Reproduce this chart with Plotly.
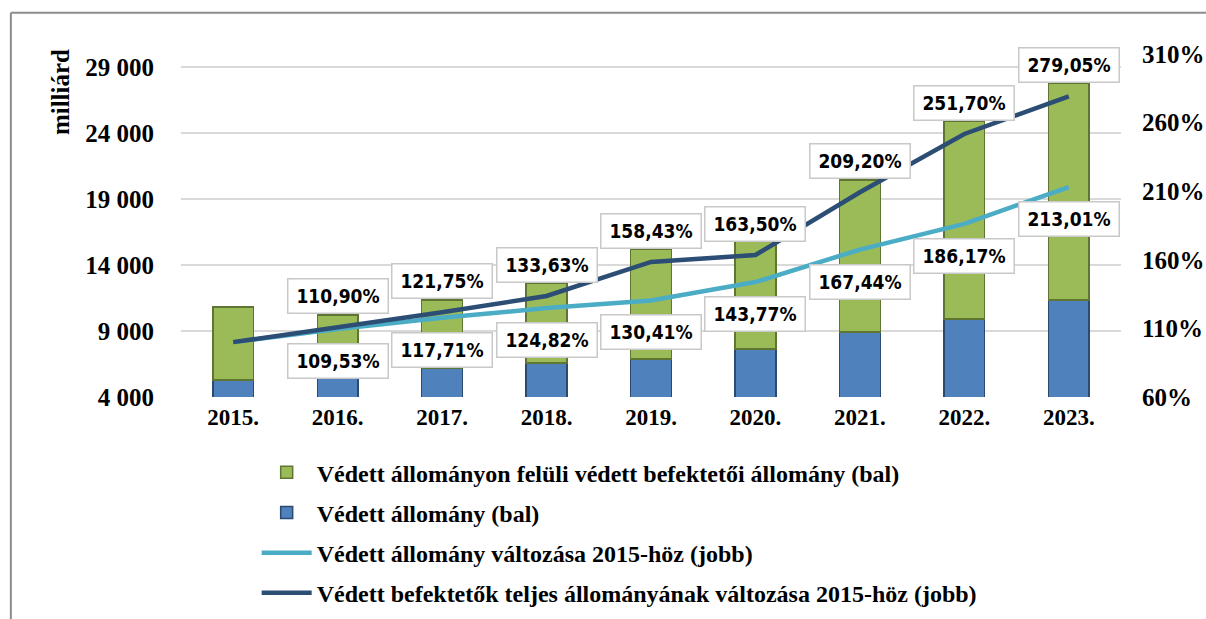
import plotly.graph_objects as go

years = ["2015.", "2016.", "2017.", "2018.", "2019.", "2020.", "2021.", "2022.", "2023."]
vedett_allomany = [5290, 5840, 6200, 6580, 6880, 7640, 8930, 9910, 11350]
felul_allomany = [5530, 4370, 5150, 6060, 8330, 8130, 11510, 15000, 16440]
vedett_valtozas = [100, 109.53, 117.71, 124.82, 130.41, 143.77, 167.44, 186.17, 213.01]
teljes_valtozas = [100, 110.90, 121.75, 133.63, 158.43, 163.50, 209.20, 251.70, 279.05]

left_ticks = [4000, 9000, 14000, 19000, 24000, 29000]
left_ticktext = ["4 000", "9 000", "14 000", "19 000", "24 000", "29 000"]
right_ticks = [60, 110, 160, 210, 260, 310]
right_ticktext = ["60%", "110%", "160%", "210%", "260%", "310%"]

names = [
    "Védett állományon felüli védett befektetői állomány (bal)",
    "Védett állomány (bal)",
    "Védett állomány változása 2015-höz (jobb)",
    "Védett befektetők teljes állományának változása 2015-höz (jobb)",
]

xpos = list(range(len(years)))

def pct(v):
    return f"{v:.2f}".replace(".", ",") + "%"

fig = go.Figure()
fig.add_trace(go.Bar(
    x=xpos, y=vedett_allomany, name=names[1], legendrank=2, legendgroup="b",
    marker=dict(color="#4F81BD", line=dict(color="#2B4A70", width=1.5)),
))
fig.add_trace(go.Bar(
    x=xpos, y=felul_allomany, name=names[0], legendrank=1, legendgroup="a",
    marker=dict(color="#9BBB59", line=dict(color="#5F7632", width=1.5)),
))
fig.add_trace(go.Scatter(
    x=xpos, y=vedett_valtozas, name=names[2], yaxis="y2", mode="lines",
    legendrank=3, legendgroup="c",
    line=dict(color="#4BACC6", width=4.5),
))
fig.add_trace(go.Scatter(
    x=xpos, y=teljes_valtozas, name=names[3], yaxis="y2", mode="lines",
    legendrank=4, legendgroup="d",
    line=dict(color="#2C4D74", width=4.5),
))

annotations = []
lab_font = dict(family="DejaVu Sans Condensed, Liberation Sans", size=19, color="#000000")
for i in range(1, len(years)):
    annotations.append(dict(
        x=xpos[i], y=teljes_valtozas[i], xref="x", yref="y2", yshift=31,
        text="<b>" + pct(teljes_valtozas[i]) + "</b>", showarrow=False,
        font=lab_font, bgcolor="white", bordercolor="#C8C8C8", borderwidth=1.5,
        borderpad=5, width=89, height=23,
    ))
    annotations.append(dict(
        x=xpos[i], y=vedett_valtozas[i], xref="x", yref="y2", yshift=-32,
        text="<b>" + pct(vedett_valtozas[i]) + "</b>", showarrow=False,
        font=lab_font, bgcolor="white", bordercolor="#C8C8C8", borderwidth=1.5,
        borderpad=5, width=89, height=23,
    ))
annotations.append(dict(
    x=-0.1287, y=0.889, xref="paper", yref="paper", text="<b>milliárd</b>",
    xanchor="center", yanchor="middle",
    textangle=-90, showarrow=False,
    font=dict(family="Liberation Serif", size=25, color="#000000"),
))

fig.update_layout(
    width=1206, height=619,
    margin=dict(l=181, r=85, t=54, b=222, autoexpand=False),
    paper_bgcolor="white", plot_bgcolor="white",
    barmode="stack", bargap=0.61,
    font=dict(family="Liberation Serif", size=22, color="#000000"),
    xaxis=dict(
        range=[-0.5, len(years) - 0.5], tickvals=xpos, ticktext=years,
        tickfont=dict(family="Liberation Serif", size=23, color="#000000", weight="bold"),
        showgrid=False, showline=False, zeroline=False, ticks="", ticklabelstandoff=4,
    ),
    yaxis=dict(
        range=[4000, 30000], tickvals=left_ticks, ticktext=left_ticktext,
        tickfont=dict(family="Liberation Serif", size=25, color="#000000", weight="bold"),
        showgrid=True, gridcolor="#D9D9D9", gridwidth=1.5, zeroline=False,
        showline=False, ticks="", ticklabelstandoff=26,
    ),
    yaxis2=dict(
        range=[60, 310], tickvals=right_ticks, ticktext=right_ticktext,
        overlaying="y", side="right", showgrid=False, zeroline=False,
        tickfont=dict(family="Liberation Serif", size=25, color="#000000", weight="bold"),
        showline=False, ticks="", ticklabelstandoff=20,
    ),
    legend=dict(
        x=0.0805, y=-0.155, xanchor="left", yanchor="top",
        traceorder="grouped", tracegroupgap=6, itemwidth=50,
        font=dict(family="Liberation Serif", size=24, color="#000000", weight="bold"),
        bgcolor="rgba(0,0,0,0)",
    ),
    annotations=annotations,
    shapes=[
        dict(type="line", xref="paper", yref="paper", x0=-0.181, x1=-0.181,
             y0=-0.66, y1=1.12, line=dict(color="#8C8C8C", width=2)),
        dict(type="line", xref="paper", yref="paper", x0=-0.181, x1=1.1,
             y0=1.12, y1=1.12, line=dict(color="#8C8C8C", width=2)),
    ],
    showlegend=True,
)

fig.write_html(
    "out.html",
    config={"displayModeBar": False},
    post_script="document.body.style.margin='0';document.body.style.overflow='hidden';",
)
